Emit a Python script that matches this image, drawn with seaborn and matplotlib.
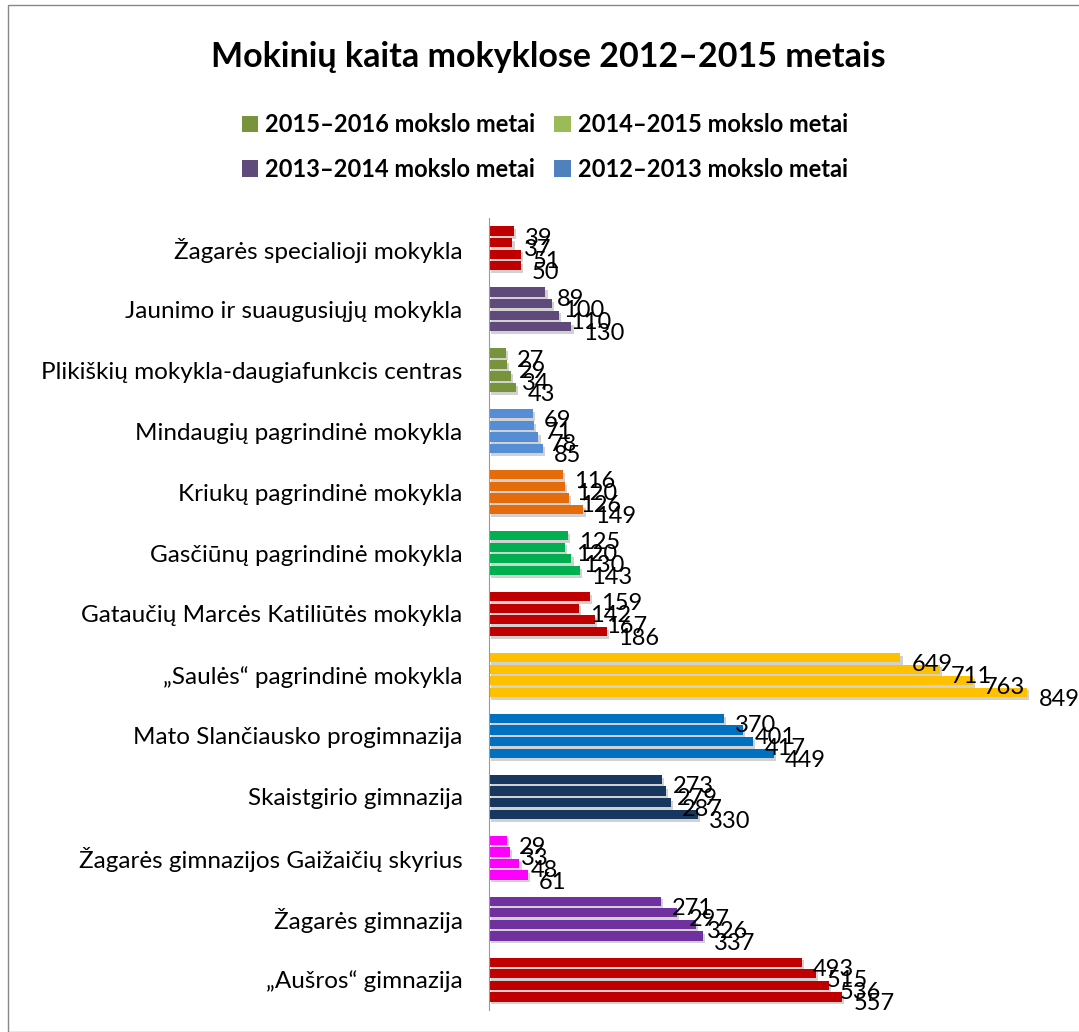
import numpy as np
import pandas as pd
import matplotlib
matplotlib.use("Agg")
import matplotlib.pyplot as plt
import matplotlib.patheffects as pe
from matplotlib.patches import Patch, Rectangle
import seaborn as sns

# Data
schools = [
    "Žagarės specialioji mokykla",
    "Jaunimo ir suaugusiųjų mokykla",
    "Plikiškių mokykla-daugiafunkcis centras",
    "Mindaugių pagrindinė mokykla",
    "Kriukų pagrindinė mokykla",
    "Gasčiūnų pagrindinė mokykla",
    "Gataučių Marcės Katiliūtės mokykla",
    "„Saulės“ pagrindinė mokykla",
    "Mato Slančiausko progimnazija",
    "Skaistgirio gimnazija",
    "Žagarės gimnazijos Gaižaičių skyrius",
    "Žagarės gimnazija",
    "„Aušros“ gimnazija",
]
years = ["2015–2016 mokslo metai", "2014–2015 mokslo metai",
         "2013–2014 mokslo metai", "2012–2013 mokslo metai"]
y2015 = [39, 89, 27, 69, 116, 125, 159, 649, 370, 273, 29, 271, 493]
y2014 = [37, 100, 29, 71, 120, 120, 142, 711, 401, 279, 33, 297, 515]
y2013 = [51, 110, 34, 78, 126, 130, 167, 763, 417, 287, 48, 326, 536]
y2012 = [50, 130, 43, 85, 149, 143, 186, 849, 449, 330, 61, 337, 557]

school_colors = ["#C00000", "#604A7B", "#77933C", "#558ED5", "#E46C0A",
                 "#00B050", "#C00000", "#FFC000", "#0070C0", "#17375E",
                 "#FF00FF", "#7030A0", "#C00000"]
legend_colors = ["#77933C", "#9BBB59", "#604A7B", "#4F81BD"]

df = pd.DataFrame({
    "school": schools * 4,
    "year": [y for y in years for _ in schools],
    "value": y2015 + y2014 + y2013 + y2012,
})

plt.rcParams["font.family"] = ["Lato", "DejaVu Sans"]
fig = plt.figure(figsize=(10.79, 10.32), dpi=100)
ax = fig.add_axes([489 / 1079, 1 - 1010 / 1032, (1075 - 489) / 1079, (1010 - 218) / 1032])

sns.barplot(data=df, y="school", x="value", hue="year", hue_order=years,
            order=schools, orient="h", width=0.76, gap=0.2, ax=ax,
            legend=False, saturation=1)

shadow = [pe.SimplePatchShadow(offset=(1.5, -2), shadow_rgbFace="#999999", alpha=0.45), pe.Normal()]
for cont in ax.containers:
    for i, bar in enumerate(cont):
        bar.set_facecolor(school_colors[i])
        bar.set_edgecolor("none")
        bar.set_path_effects(shadow)
        w = bar.get_width()
        ax.annotate(f"{int(w)}", (w, bar.get_y() + bar.get_height() + 0.04),
                    xytext=(8, 0), textcoords="offset points",
                    ha="left", va="center", fontsize=17, color="black")

ax.set_xlim(0, (1075 - 489) / 0.634)
ax.set_xlabel("")
ax.set_ylabel("")
ax.set_xticks([])
ax.tick_params(axis="y", length=0, labelsize=17.5, pad=19)
for s in ["top", "right", "bottom"]:
    ax.spines[s].set_visible(False)
ax.spines["left"].set_color("#999999")

fig.text(0.508, 1 - 57 / 1032, "Mokinių kaita mokyklose 2012–2015 metais",
         ha="center", va="center", fontsize=24.5, fontweight="bold")

handles = [Patch(facecolor=c, label=l) for c, l in zip(legend_colors, years)]
# matplotlib fills legend columns first, so reorder to get row-wise order
handles = [handles[0], handles[2], handles[1], handles[3]]
fig.legend(handles=handles, ncol=2, loc="center", bbox_to_anchor=(0.505, 1 - 147 / 1032),
           frameon=False, prop={"size": 17, "weight": "bold"}, handlelength=0.7,
           handleheight=0.7, handletextpad=0.3, columnspacing=0.8, labelspacing=0.9)

fig.patches.append(Rectangle((8 / 1079, 0), 1.1, 1 - 5 / 1032, transform=fig.transFigure,
                             fill=False, edgecolor="#888888", linewidth=1))

fig.savefig("out.png", dpi=100)
